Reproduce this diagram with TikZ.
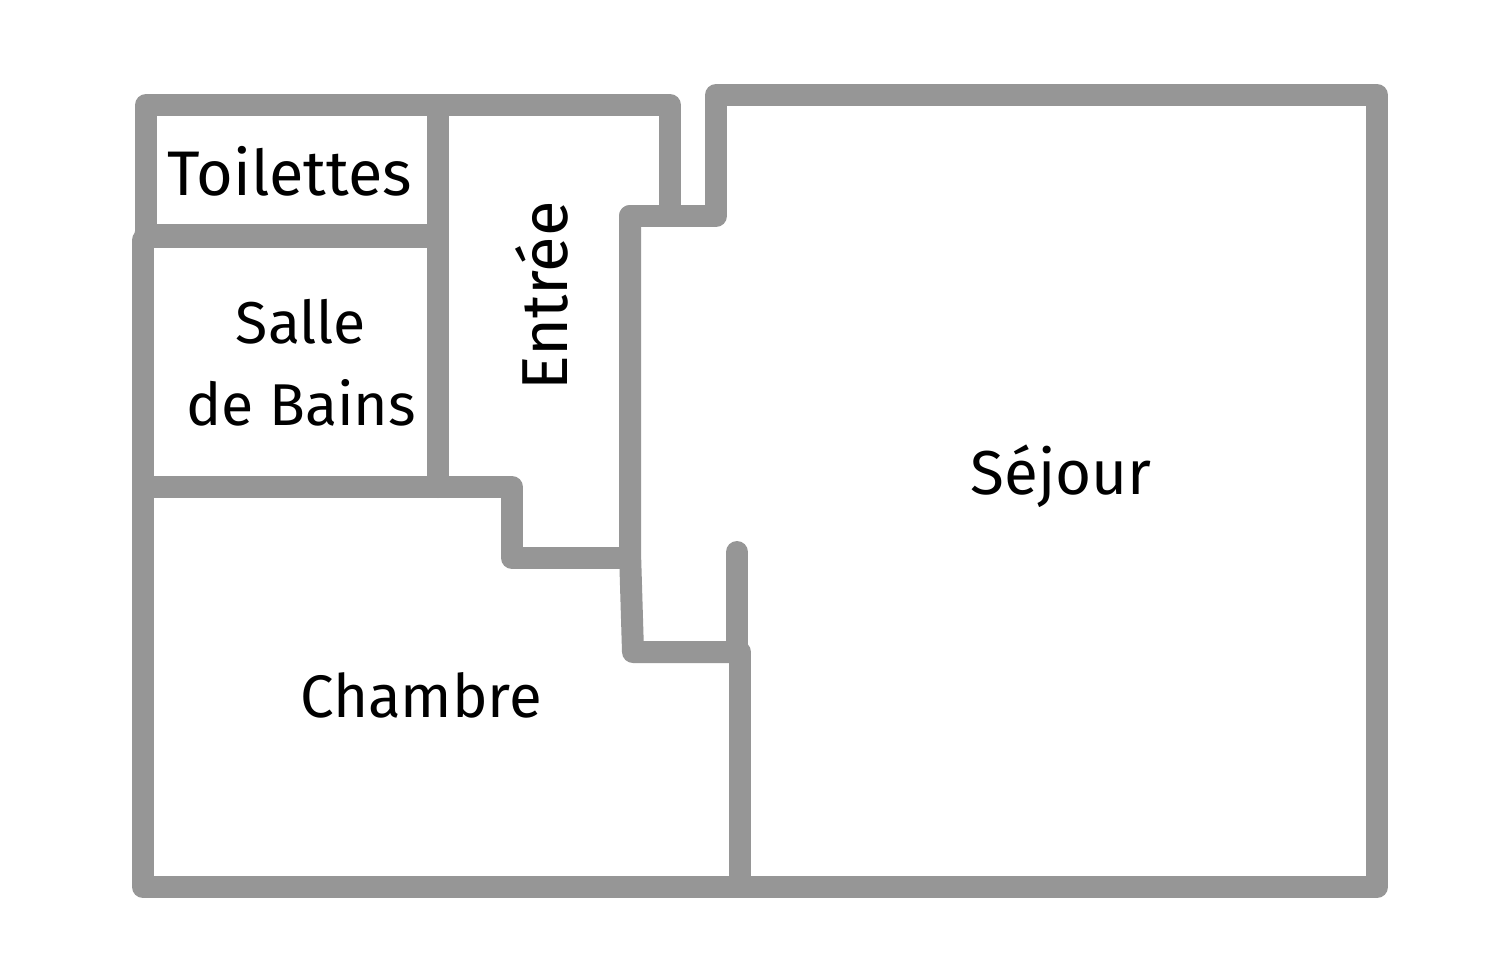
\documentclass[tikz,border=0pt]{standalone}
\usepackage{fontspec}
\setmainfont{Fira Sans}
\definecolor{wallgrey}{HTML}{969696}
\tikzset{
  wall/.style={draw=wallgrey,line width=11pt,line cap=round,line join=round},
  roomlabel/.style={font=\fontsize{#1}{34}\selectfont,text=black,align=center,inner sep=0pt}
}
\begin{document}
\begin{tikzpicture}[x=0.5pt,y=-0.5pt]
\useasboundingbox[fill=white] (0,0) rectangle (1500,960);
% walls
\draw[wall] (146,232) -- (146,105) -- (670,105) -- (670,212);
\draw[wall] (630,216) -- (716,216) -- (716,95) -- (1377,95) -- (1377,887) -- (740,887);
\draw[wall] (630,216) -- (630,552) -- (633,652) -- (738,652);
\draw[wall] (622,558) -- (512,558) -- (512,487) -- (143,487);
\draw[wall] (143,240) -- (143,887) -- (740,887) -- (740,652);
\draw[wall] (737,552) -- (737,645);
\draw[wall] (438,105) -- (438,487);
\draw[wall,line width=12pt] (146,236) -- (430,236);
% labels
\node[roomlabel=31.5] (toilettes) at (290,171) {Toilettes};
\node[roomlabel=29.5] (salle) at (301,363) {Salle\\[7pt]de Bains};
\node[roomlabel=32.5,rotate=90] (entree) at (542,296) {Entrée};
\node[roomlabel=31] (sejour) at (1061,476) {Séjour};
\node[roomlabel=30] (chambre) at (421,695) {Chambre};
\end{tikzpicture}
\end{document}
